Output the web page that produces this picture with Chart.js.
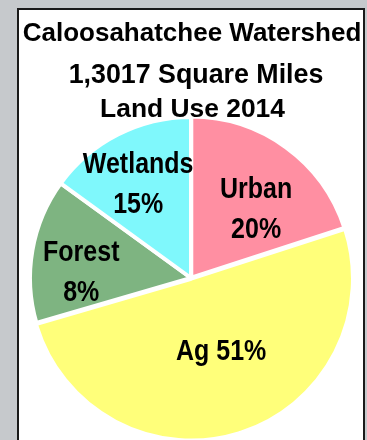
<!DOCTYPE html>
<html><head><meta charset="utf-8">
<script src="https://cdn.jsdelivr.net/npm/chart.js@4.4.1/dist/chart.umd.min.js"></script>
<style>
html,body{margin:0;padding:0;width:367px;height:440px;overflow:hidden;background:#c6c9cc;}
#panel{position:absolute;left:17px;top:8px;width:344px;height:500px;border:2px solid #1a1a1a;background:#fff;}
#c{position:absolute;left:0;top:0;}
</style></head><body>
<div id="panel"></div>
<canvas id="c" width="367" height="440"></canvas>
<script>
const titleLines = ["Caloosahatchee Watershed", "1,3017 Square Miles", "Land Use 2014"];
const categories = ["Urban", "Ag", "Forest", "Wetlands"];
const sliceValues = [20, 50.5, 14.5, 15];
const percentLabels = ["20%", "51%", "8%", "15%"];
const sliceColors = ["#ff8fa2", "#ffff7a", "#7eb481", "#7ff8fc"];

const FONT = '"Liberation Sans", Arial, Helvetica, sans-serif';

const textPlugin = {
  id: 'textPlugin',
  afterDraw(chart, args, opts) {
    const ctx = chart.ctx;
    ctx.save();
    ctx.fillStyle = '#000';
    ctx.textAlign = 'center';
    ctx.textBaseline = 'alphabetic';
    // title lines
    opts.title.forEach((t, i) => {
      ctx.font = 'bold ' + t.size + 'px ' + FONT;
      ctx.fillText(titleLines[i], t.x, t.y);
    });
    // slice labels
    const meta = chart.getDatasetMeta(0);
    meta.data.forEach((arc, i) => {
      const p = arc.getProps(['x', 'y', 'startAngle', 'endAngle', 'outerRadius'], true);
      const pl = opts.place[i];
      const a = (p.startAngle + p.endAngle) / 2 + pl.shift * Math.PI / 180;
      const r = p.outerRadius * pl.frac;
      const cx = p.x + Math.cos(a) * r;
      const cy = p.y + Math.sin(a) * r;
      ctx.font = 'bold 25px ' + FONT;
      const lines = pl.single ? [categories[i] + ' ' + percentLabels[i]] : [categories[i], percentLabels[i]];
      const base = pl.single ? [11] : [-10, 30];
      lines.forEach((txt, k) => {
        ctx.save();
        ctx.translate(cx, cy + base[k]);
        ctx.scale(1, 1.15);
        ctx.fillText(txt, 0, 0);
        ctx.restore();
      });
    });
    ctx.restore();
  }
};

new Chart(document.getElementById('c'), {
  type: 'pie',
  data: {
    labels: categories,
    datasets: [{
      data: sliceValues,
      backgroundColor: sliceColors,
      borderColor: '#ffffff',
      borderWidth: 4,
      offset: [2, 3, 0, 0],
      radius: 161
    }]
  },
  options: {
    responsive: false,
    animation: false,
    layout: { padding: { left: 31, right: 16, top: 118, bottom: 2 } },
    plugins: {
      legend: { display: false },
      tooltip: { enabled: false },
      title: { display: false },
      textPlugin: {
        title: [
          { x: 192, y: 41, size: 26 },
          { x: 196, y: 83, size: 26.8 },
          { x: 192.5, y: 117, size: 26.4 }
        ],
        place: [
          { shift: 7, frac: 0.593 },
          { shift: -6, frac: 0.478, single: true },
          { shift: -6.3, frac: 0.683 },
          { shift: -2, frac: 0.677 }
        ]
      }
    }
  },
  plugins: [textPlugin]
});
</script>
</body></html>
